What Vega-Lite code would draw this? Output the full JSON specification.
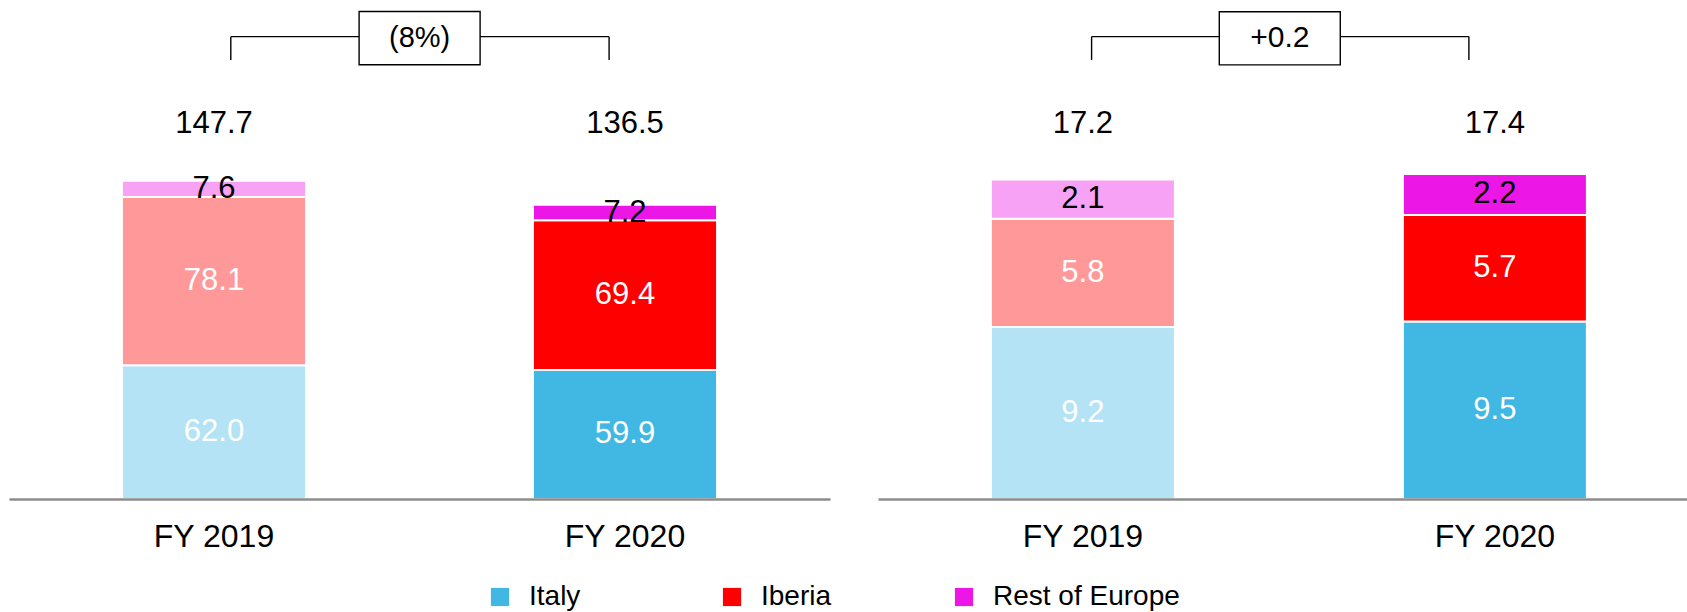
{
  "$schema": "https://vega.github.io/schema/vega-lite/v6.json",
  "background": "white",
  "padding": {"left": 9, "top": 0, "right": 0, "bottom": 0},
  "spacing": 48,
  "config": {
    "view": {"stroke": null},
    "font": "Liberation Sans",
    "text": {"font": "Liberation Sans"},
    "axis": {"labelFont": "Liberation Sans"},
    "legend": {"labelFont": "Liberation Sans"}
  },
  "datasets": {
    "left": [
      {"year": "FY 2019", "region": "Italy", "value": 62.0},
      {"year": "FY 2019", "region": "Iberia", "value": 78.1},
      {"year": "FY 2019", "region": "Rest of Europe", "value": 7.6},
      {"year": "FY 2020", "region": "Italy", "value": 59.9},
      {"year": "FY 2020", "region": "Iberia", "value": 69.4},
      {"year": "FY 2020", "region": "Rest of Europe", "value": 7.2}
    ],
    "right": [
      {"year": "FY 2019", "region": "Italy", "value": 9.2},
      {"year": "FY 2019", "region": "Iberia", "value": 5.8},
      {"year": "FY 2019", "region": "Rest of Europe", "value": 2.1},
      {"year": "FY 2020", "region": "Italy", "value": 9.5},
      {"year": "FY 2020", "region": "Iberia", "value": 5.7},
      {"year": "FY 2020", "region": "Rest of Europe", "value": 2.2}
    ],
    "leftTotals": [
      {"year": "FY 2019", "total": 147.7},
      {"year": "FY 2020", "total": 136.5}
    ],
    "rightTotals": [
      {"year": "FY 2019", "total": 17.2},
      {"year": "FY 2020", "total": 17.4}
    ],
    "leftDelta": [{"from": "FY 2019", "to": "FY 2020", "label": "(8%)"}],
    "rightDelta": [{"from": "FY 2019", "to": "FY 2020", "label": "+0.2"}]
  },
  "hconcat": [
    {
      "width": 821,
      "height": 499,
      "layer": [
        {
          "data": {"name": "left"},
          "transform": [
            {"calculate": "indexof(['Italy','Iberia','Rest of Europe'], datum.region)", "as": "ord"},
            {"stack": "value", "groupby": ["year"], "sort": [{"field": "ord", "order": "ascending"}], "as": ["v0", "v1"]},
            {"calculate": "(datum.v0 + datum.v1) / 2", "as": "mid"}
          ],
          "layer": [
            {
              "mark": {"type": "bar", "stroke": "white", "strokeWidth": 2},
              "encoding": {
                "x": {
                  "field": "year", "type": "nominal", "title": null,
                  "scale": {"paddingInner": 0.552, "paddingOuter": 0.2748, "align": 0.5},
                  "axis": {"title": null, "labelAngle": 0, "labelFontSize": 32, "labelColor": "black", "ticks": false, "tickSize": 0, "labelPadding": 47, "labelBaseline": "alphabetic", "domainColor": "#8c8c8c", "domainWidth": 2.6, "zindex": 1, "grid": false}
                },
                "y": {"field": "v1", "type": "quantitative", "scale": {"domain": [0, 231.5]}, "axis": null},
                "y2": {"field": "v0"},
                "color": {
                  "field": "region", "type": "nominal",
                  "scale": {"domain": ["Italy", "Iberia", "Rest of Europe"], "range": ["#41B8E4", "#FF0000", "#EC17E6"]},
                  "legend": {"orient": "none", "legendX": 477, "legendY": 583, "direction": "horizontal", "title": null, "symbolType": "square", "symbolSize": 330, "symbolStrokeWidth": 0, "symbolOpacity": 1, "labelFontSize": 28, "labelColor": "black", "labelOffset": 15, "labelLimit": 400, "columnPadding": 2, "gridAlign": "all"}
                },
                "fillOpacity": {"field": "year", "type": "nominal", "scale": {"domain": ["FY 2019", "FY 2020"], "range": [0.4, 1]}, "legend": null}
              }
            },
            {
              "mark": {"type": "text", "fontSize": 31, "baseline": "middle"},
              "encoding": {
                "x": {"field": "year", "type": "nominal"},
                "y": {"field": "mid", "type": "quantitative", "scale": {"domain": [0, 231.5]}},
                "text": {"field": "value", "type": "quantitative", "format": ".1f"},
                "fill": {"condition": {"test": "datum.region === 'Rest of Europe'", "value": "black"}, "value": "white"}
              }
            }
          ]
        },
        {
          "data": {"name": "leftTotals"},
          "mark": {"type": "text", "fontSize": 31, "baseline": "alphabetic", "color": "black"},
          "encoding": {
            "x": {"field": "year", "type": "nominal"},
            "y": {"datum": 169.7, "type": "quantitative", "scale": {"domain": [0, 231.5]}},
            "text": {"field": "total", "type": "quantitative", "format": ".1f"}
          }
        },
        {
          "data": {"name": "leftDelta"},
          "layer": [
            {
              "mark": {"type": "rule", "strokeWidth": 1.4, "color": "black", "xOffset": 16.8, "x2Offset": -15.9},
              "encoding": {
                "x": {"field": "from", "type": "nominal"},
                "x2": {"field": "to"},
                "y": {"datum": 214.5, "type": "quantitative", "scale": {"domain": [0, 231.5]}}
              }
            },
            {
              "mark": {"type": "rule", "strokeWidth": 1.4, "color": "black", "xOffset": 16.8},
              "encoding": {
                "x": {"field": "from", "type": "nominal"},
                "y": {"datum": 203.7, "type": "quantitative", "scale": {"domain": [0, 231.5]}},
                "y2": {"datum": 214.5}
              }
            },
            {
              "mark": {"type": "rule", "strokeWidth": 1.4, "color": "black", "xOffset": -15.9},
              "encoding": {
                "x": {"field": "to", "type": "nominal"},
                "y": {"datum": 203.7, "type": "quantitative", "scale": {"domain": [0, 231.5]}},
                "y2": {"datum": 214.5}
              }
            },
            {
              "mark": {"type": "point", "shape": "M-1,-0.44L1,-0.44L1,0.44L-1,0.44Z", "size": 14641, "filled": true, "fill": "white", "stroke": "black", "strokeWidth": 1.4, "opacity": 1, "fillOpacity": 1, "xOffset": 205.6},
              "encoding": {
                "x": {"field": "from", "type": "nominal"},
                "y": {"datum": 213.8, "type": "quantitative", "scale": {"domain": [0, 231.5]}}
              }
            },
            {
              "mark": {"type": "text", "fontSize": 29, "baseline": "middle", "color": "black", "dx": 205.6},
              "encoding": {
                "x": {"field": "from", "type": "nominal"},
                "y": {"datum": 213.8, "type": "quantitative", "scale": {"domain": [0, 231.5]}},
                "text": {"field": "label"}
              }
            }
          ]
        }
      ]
    },
    {
      "width": 809,
      "height": 499,
      "layer": [
        {
          "data": {"name": "right"},
          "transform": [
            {"calculate": "indexof(['Italy','Iberia','Rest of Europe'], datum.region)", "as": "ord"},
            {"stack": "value", "groupby": ["year"], "sort": [{"field": "ord", "order": "ascending"}], "as": ["v0", "v1"]},
            {"calculate": "(datum.v0 + datum.v1) / 2", "as": "mid"}
          ],
          "layer": [
            {
              "mark": {"type": "bar", "stroke": "white", "strokeWidth": 2},
              "encoding": {
                "x": {
                  "field": "year", "type": "nominal", "title": null,
                  "scale": {"paddingInner": 0.5534, "paddingOuter": 0.2585, "align": 0.53},
                  "axis": {"title": null, "labelAngle": 0, "labelFontSize": 32, "labelColor": "black", "ticks": false, "tickSize": 0, "labelPadding": 47, "labelBaseline": "alphabetic", "domainColor": "#8c8c8c", "domainWidth": 2.6, "zindex": 1, "grid": false}
                },
                "y": {"field": "v1", "type": "quantitative", "scale": {"domain": [0, 26.71]}, "axis": null},
                "y2": {"field": "v0"},
                "color": {
                  "field": "region", "type": "nominal",
                  "scale": {"domain": ["Italy", "Iberia", "Rest of Europe"], "range": ["#41B8E4", "#FF0000", "#EC17E6"]}
                },
                "fillOpacity": {"field": "year", "type": "nominal", "scale": {"domain": ["FY 2019", "FY 2020"], "range": [0.4, 1]}, "legend": null}
              }
            },
            {
              "mark": {"type": "text", "fontSize": 31, "baseline": "middle"},
              "encoding": {
                "x": {"field": "year", "type": "nominal"},
                "y": {"field": "mid", "type": "quantitative", "scale": {"domain": [0, 26.71]}},
                "text": {"field": "value", "type": "quantitative", "format": ".1f"},
                "fill": {"condition": {"test": "datum.region === 'Rest of Europe'", "value": "black"}, "value": "white"}
              }
            }
          ]
        },
        {
          "data": {"name": "rightTotals"},
          "mark": {"type": "text", "fontSize": 31, "baseline": "alphabetic", "color": "black"},
          "encoding": {
            "x": {"field": "year", "type": "nominal"},
            "y": {"datum": 19.58, "type": "quantitative", "scale": {"domain": [0, 26.71]}},
            "text": {"field": "total", "type": "quantitative", "format": ".1f"}
          }
        },
        {
          "data": {"name": "rightDelta"},
          "layer": [
            {
              "mark": {"type": "rule", "strokeWidth": 1.4, "color": "black", "xOffset": 8.7, "x2Offset": -26},
              "encoding": {
                "x": {"field": "from", "type": "nominal"},
                "x2": {"field": "to"},
                "y": {"datum": 24.75, "type": "quantitative", "scale": {"domain": [0, 26.71]}}
              }
            },
            {
              "mark": {"type": "rule", "strokeWidth": 1.4, "color": "black", "xOffset": 8.7},
              "encoding": {
                "x": {"field": "from", "type": "nominal"},
                "y": {"datum": 23.5, "type": "quantitative", "scale": {"domain": [0, 26.71]}},
                "y2": {"datum": 24.75}
              }
            },
            {
              "mark": {"type": "rule", "strokeWidth": 1.4, "color": "black", "xOffset": -26},
              "encoding": {
                "x": {"field": "to", "type": "nominal"},
                "y": {"datum": 23.5, "type": "quantitative", "scale": {"domain": [0, 26.71]}},
                "y2": {"datum": 24.75}
              }
            },
            {
              "mark": {"type": "point", "shape": "M-1,-0.44L1,-0.44L1,0.44L-1,0.44Z", "size": 14641, "filled": true, "fill": "white", "stroke": "black", "strokeWidth": 1.4, "opacity": 1, "fillOpacity": 1, "xOffset": 196.9},
              "encoding": {
                "x": {"field": "from", "type": "nominal"},
                "y": {"datum": 24.66, "type": "quantitative", "scale": {"domain": [0, 26.71]}}
              }
            },
            {
              "mark": {"type": "text", "fontSize": 30, "baseline": "middle", "color": "black", "dx": 196.9},
              "encoding": {
                "x": {"field": "from", "type": "nominal"},
                "y": {"datum": 24.66, "type": "quantitative", "scale": {"domain": [0, 26.71]}},
                "text": {"field": "label"}
              }
            }
          ]
        }
      ]
    }
  ]
}
